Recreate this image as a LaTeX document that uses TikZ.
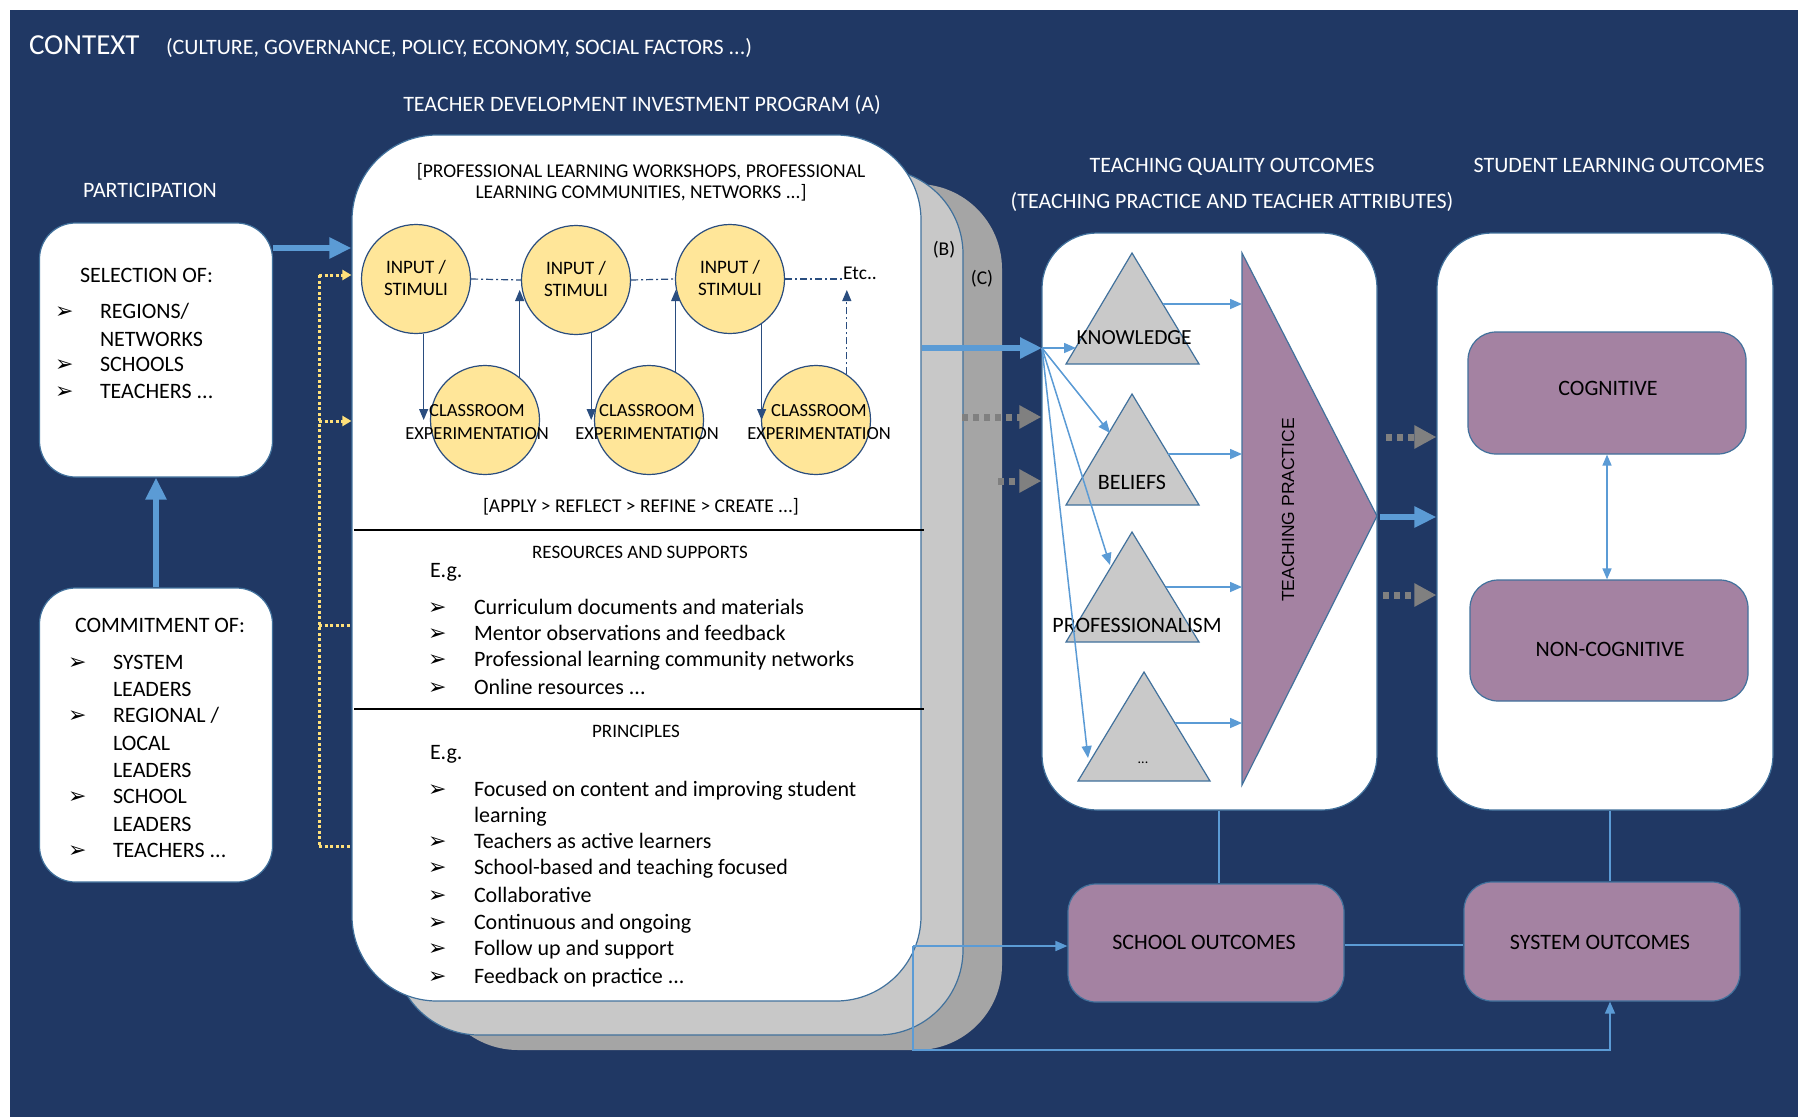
\documentclass[tikz,border=0pt]{standalone}
\usepackage{fontspec}
\setmainfont{Carlito}
\newfontfamily\symf{DejaVu Sans}
\newfontfamily\tpf{Liberation Sans}
\usetikzlibrary{arrows.meta,calc}
\definecolor{navy}{HTML}{203864}
\definecolor{lblue}{HTML}{5B9BD5}
\definecolor{bord}{HTML}{41719C}
\definecolor{dblue}{HTML}{2A4D7F}
\definecolor{purp}{HTML}{A482A2}
\definecolor{cyel}{HTML}{FFE699}
\definecolor{dyel}{HTML}{FFE07A}
\definecolor{tgray}{HTML}{C9C9C9}
\definecolor{lgray}{HTML}{C8C8C8}
\definecolor{mgray}{HTML}{A5A5A5}
\definecolor{dgray}{HTML}{808080}
\newcommand\fz[2]{\fontsize{#1pt}{#2pt}\selectfont}
\newcommand\bul{{\symf\char"27A2}}
\newcommand\ddd{...}
\begin{document}
\begin{tikzpicture}[x=1pt,y=-1pt,
  txt/.style={inner sep=0pt, outer sep=0pt},
  wtxt/.style={txt, text=white, font=\fz{22}{26}},
  btxt/.style={txt, text=black, font=\fz{22}{26}},
  stxt/.style={txt, text=black, font=\fz{19.5}{22}},
  ctxt/.style={txt, text=black, font=\fz{18.5}{22}},
  bulx/.style={txt, text=black, font=\fz{22}{24}\symf},
  wbox/.style={draw=bord, line width=1.2pt, fill=white, inner sep=0pt},
  pbox/.style={draw=bord, line width=1.2pt, fill=purp, rounded corners=28pt, inner sep=0pt},
  circ/.style={circle, draw=dblue, line width=1.2pt, fill=cyel, minimum size=109pt, inner sep=0pt},
  thinarrow/.style={draw=dblue, line width=1.2pt, -{Triangle[length=11pt,width=9pt]}},
  dashdot/.style={draw=dblue, line width=1.2pt, dash pattern=on 7pt off 3pt on 2pt off 3pt},
  fatarrow/.style={draw=lblue, line width=6pt, -{Triangle[length=22pt,width=20pt]}},
  bluearrow/.style={draw=lblue, line width=1.5pt, -{Triangle[length=12pt,width=10pt]}},
  blueline/.style={draw=lblue, line width=1.5pt},
  graydots/.style={draw=dgray, line width=7pt, dash pattern=on 6pt off 5pt, -{Triangle[length=22pt,width=22pt]}},
  yeldots/.style={draw=dyel, line width=3pt, dash pattern=on 3pt off 2.5pt},
  yelarrow/.style={yeldots, -{Triangle[length=9pt,width=10pt]}},
  tri/.style={draw=bord, line width=1.2pt, fill=tgray},
]
\useasboundingbox (0,0) rectangle (1798,1117);
\fill[white] (0,0) rectangle (1798,1117);
\fill[navy] (10,10) rectangle (1798,1117);

% headers
\node[txt, text=white, font=\fz{29}{34}, anchor=base west] (ctx) at (29,54) {CONTEXT};
\node[wtxt, anchor=base west] (ctxd) at (166,54) {(CULTURE, GOVERNANCE, POLICY, ECONOMY, SOCIAL FACTORS \ddd)};
\node[wtxt, anchor=base] (tdip) at (642,111) {TEACHER DEVELOPMENT INVESTMENT PROGRAM (A)};
\node[wtxt, anchor=base] (part) at (150,197) {PARTICIPATION};
\node[wtxt, anchor=base] (tqo) at (1232,172) {TEACHING QUALITY OUTCOMES};
\node[wtxt, anchor=base] (tpa) at (1232,208) {(TEACHING PRACTICE AND TEACHER ATTRIBUTES)};
\node[wtxt, anchor=base] (slo) at (1619,172) {STUDENT LEARNING OUTCOMES};

% left boxes
\node[wbox, rounded corners=36pt, minimum width=233pt, minimum height=254pt] (sel) at (156,350) {};
\node[wbox, rounded corners=36pt, minimum width=233pt, minimum height=294pt] (com) at (156,735) {};
\node[btxt, anchor=base west] (selh) at (80,282) {SELECTION OF:};
\node[bulx, anchor=base west] (sb1) at (55,318) {\bul};
\node[bulx, anchor=base west] (sb2) at (55,371) {\bul};
\node[bulx, anchor=base west] (sb3) at (55,398) {\bul};
\node[btxt, anchor=base west] (si1) at (100,318) {REGIONS/};
\node[btxt, anchor=base west] (si2) at (100,346) {NETWORKS};
\node[btxt, anchor=base west] (si3) at (100,371) {SCHOOLS};
\node[btxt, anchor=base west] (si4) at (100,398) {TEACHERS \ddd};

\node[btxt, anchor=base west] (comh) at (75,632) {COMMITMENT OF:};
\node[bulx, anchor=base west] (cb1) at (68,669) {\bul};
\node[bulx, anchor=base west] (cb2) at (68,722) {\bul};
\node[bulx, anchor=base west] (cb3) at (68,803) {\bul};
\node[bulx, anchor=base west] (cb4) at (68,857) {\bul};
\node[btxt, anchor=base west] (ci1) at (113,669) {SYSTEM};
\node[btxt, anchor=base west] (ci2) at (113,696) {LEADERS};
\node[btxt, anchor=base west] (ci3) at (113,722) {REGIONAL /};
\node[btxt, anchor=base west] (ci4) at (113,750) {LOCAL};
\node[btxt, anchor=base west] (ci5) at (113,777) {LEADERS};
\node[btxt, anchor=base west] (ci6) at (113,803) {SCHOOL};
\node[btxt, anchor=base west] (ci7) at (113,831) {LEADERS};
\node[btxt, anchor=base west] (ci8) at (113,857) {TEACHERS \ddd};

% program layers
\node[fill=mgray, rounded corners=85pt, minimum width=569pt, minimum height=866pt, inner sep=0pt] (C) at (717.5,617) {};
\node[wbox, fill=lgray, rounded corners=85pt, minimum width=569pt, minimum height=866pt] (B) at (678.5,602) {};
\node[wbox, rounded corners=85pt, minimum width=569pt, minimum height=866pt] (A) at (636.5,568) {};
\node[stxt, anchor=base] (lb) at (944,255) {(B)};
\node[stxt, anchor=base] (lc) at (982,284) {(C)};

\coordinate (h1) at (354,530);
\coordinate (h2) at (354,709);
\draw[black, line width=1.5pt] (h1) -- ++(570,0);
\draw[black, line width=1.5pt] (h2) -- ++(570,0);

% participation arrows
\coordinate (pa) at (0,248);
\draw[fatarrow] (com.north) -- (sel.south);
\draw[fatarrow] (sel.east |- pa) -- (A.west |- pa);

% yellow dotted connectors
\coordinate (y1) at (319,275);
\coordinate (y2) at (319,421);
\coordinate (y3) at (319,625);
\coordinate (y4) at (319,846);
\draw[yeldots] (y1) -- (y4);
\draw[yelarrow] (y1) -- (A.west |- y1);
\draw[yelarrow] (y2) -- (A.west |- y2);
\draw[yeldots] (y3) -- (A.west |- y3);
\draw[yeldots] (y4) -- (A.west |- y4);

% program text
\node[stxt, anchor=base] (pl1) at (641,177) {[PROFESSIONAL LEARNING WORKSHOPS, PROFESSIONAL};
\node[stxt, anchor=base] (pl2) at (641,198) {LEARNING COMMUNITIES, NETWORKS \ddd]};

% circles
\node[circ] (in1) at (416,279) {};
\node[circ] (in2) at (576,280) {};
\node[circ] (in3) at (730,279) {};
\node[circ] (cl1) at (485,420) {};
\node[circ] (cl2) at (649,420) {};
\node[circ] (cl3) at (816,420) {};

\node[stxt, anchor=base] (etc) at (860,279) {Etc..};
\draw[dashdot] (in1.east) -- (in2.west);
\draw[dashdot] (in2.east) -- (in3.west);
\draw[dashdot] (in3.east) -- (etc.west |- in3.east);

\coordinate (lvl) at (0,420);
\coordinate (topl) at (0,290);
\draw[thinarrow] (in1.-82) -- (in1.-82 |- lvl);
\draw[thinarrow] (cl1.51) -- (cl1.51 |- topl);
\draw[thinarrow] (in2.-74) -- (in2.-74 |- lvl);
\draw[thinarrow] (cl2.61) -- (cl2.61 |- topl);
\draw[thinarrow] (in3.-55) -- (in3.-55 |- lvl);
\draw[dashdot, -{Triangle[length=11pt,width=9pt]}] (cl3.56) -- (cl3.56 |- topl);

\foreach \n in {in1,in2,in3}{
  \node[ctxt, font=\fz{19}{22}, anchor=base] at ($(\n.center)+(0,-6)$) {INPUT /};
  \node[ctxt, font=\fz{19}{22}, anchor=base] at ($(\n.center)+(0,16)$) {STIMULI};
}
\node[ctxt, anchor=base] (t1a) at (477,416) {CLASSROOM};
\node[ctxt, anchor=base] (t1b) at (477,439) {EXPERIMENTATION};
\node[ctxt, anchor=base] (t2a) at (647,416) {CLASSROOM};
\node[ctxt, anchor=base] (t2b) at (647,439) {EXPERIMENTATION};
\node[ctxt, anchor=base] (t3a) at (819,416) {CLASSROOM};
\node[ctxt, anchor=base] (t3b) at (819,439) {EXPERIMENTATION};

\node[stxt, anchor=base] (arrc) at (641,512) {[APPLY > REFLECT > REFINE > CREATE \ddd]};

% resources
\node[txt, font=\fz{19}{22}, anchor=base] (res) at (640,558) {RESOURCES AND SUPPORTS};
\node[btxt, anchor=base west] (eg1) at (430,577) {E.g.};
\foreach \yy/\tt in {614/Curriculum documents and materials, 640/Mentor observations and feedback, 666/Professional learning community networks, 694/Online resources \ddd}{
  \node[bulx, anchor=base west] at (428,\yy) {\bul};
  \node[btxt, anchor=base west] at (474,\yy) {\tt};
}
% principles
\node[txt, font=\fz{19}{22}, anchor=base] (pri) at (636,737) {PRINCIPLES};
\node[btxt, anchor=base west] (eg2) at (430,759) {E.g.};
\foreach \yy/\tt in {796/Focused on content and improving student, 848/Teachers as active learners, 874/School-based and teaching focused, 902/Collaborative, 929/Continuous and ongoing, 955/Follow up and support, 983/Feedback on practice \ddd}{
  \node[bulx, anchor=base west] at (428,\yy) {\bul};
  \node[btxt, anchor=base west] at (474,\yy) {\tt};
}
\node[btxt, anchor=base west] (lrn) at (474,822) {learning};

% right boxes
\node[wbox, rounded corners=55pt, minimum width=335pt, minimum height=577pt] (tq) at (1209.5,521.5) {};
\node[wbox, rounded corners=55pt, minimum width=336pt, minimum height=577pt] (sl) at (1605,521.5) {};

% triangles
\draw[tri] (1132,253) -- (1199,364) -- (1066,364) -- cycle;
\draw[tri] (1132,394) -- (1199,505) -- (1066,505) -- cycle;
\draw[tri] (1132,532) -- (1199,642) -- (1066,642) -- cycle;
\draw[tri] (1144,672) -- (1210,781) -- (1078,781) -- cycle;
\draw[draw=bord, line width=1.2pt, fill=purp] (1242,253) -- (1377,516) -- (1242,785) -- cycle;

\node[btxt, font=\fz{21.5}{26}, anchor=base] (kn) at (1134,344) {KNOWLEDGE};
\node[btxt, anchor=base] (be) at (1132,489) {BELIEFS};
\node[btxt, anchor=base] (pr) at (1137,632) {PROFESSIONALISM};
\node[btxt, font=\fz{14}{16}, anchor=base] (dots) at (1143,763) {\ddd};
\node[txt, rotate=90, font=\fz{17.5}{20}\tpf] (tpl) at (1288,510) {TEACHING PRACTICE};

% arrows triangles -> teaching practice
\coordinate (kR) at (1163,304);
\coordinate (bR) at (1168,454);
\coordinate (pR) at (1166,587);
\coordinate (dR) at (1175,723);
\coordinate (tpL) at (1242,0);
\draw[bluearrow] (kR) -- (kR -| tpL);
\draw[bluearrow] (bR) -- (bR -| tpL);
\draw[bluearrow] (pR) -- (pR -| tpL);
\draw[bluearrow] (dR) -- (dR -| tpL);

% fan
\coordinate (fan) at (1042,348);
\draw[fatarrow] (A.east |- fan) -- (fan);
\draw[bluearrow] (fan) -- (1076,348);
\draw[bluearrow] (fan) -- (1110,433);
\draw[bluearrow] (fan) -- (1110,565);
\draw[bluearrow] (fan) -- (1088,758);

% gray dotted arrows
\coordinate (g1) at (962,417);
\coordinate (g2) at (998,481);
\draw[graydots] (g1) -- (tq.west |- g1);
\draw[graydots] (g2) -- (tq.west |- g2);
\coordinate (g3) at (1386,437);
\coordinate (g4) at (1383,595);
\coordinate (g5) at (1380,517);
\draw[graydots] (g3) -- (sl.west |- g3);
\draw[graydots] (g4) -- (sl.west |- g4);
\draw[fatarrow] (g5) -- (sl.west |- g5);

% student outcomes
\node[pbox, minimum width=278pt, minimum height=122pt] (cog) at (1607,393) {};
\node[pbox, minimum width=278pt, minimum height=121pt] (ncog) at (1609,640.5) {};
\node[btxt, anchor=base] (cogt) at (1608,395) {COGNITIVE};
\node[btxt, anchor=base] (ncogt) at (1610,656) {NON-COGNITIVE};
\draw[draw=lblue, line width=1.5pt, {Triangle[length=11pt,width=9pt]}-{Triangle[length=11pt,width=9pt]}] (cog.south) -- (cog.south |- ncog.north);

% school / system outcomes
\node[pbox, minimum width=276pt, minimum height=118pt] (sch) at (1206,943) {};
\node[pbox, minimum width=276pt, minimum height=119pt] (sys) at (1602,941.5) {};
\node[btxt, anchor=base] (scht) at (1204,949) {SCHOOL OUTCOMES};
\node[btxt, anchor=base] (syst) at (1600,949) {SYSTEM OUTCOMES};

\coordinate (v1) at (1219,0);
\coordinate (v2) at (1610,0);
\coordinate (hz) at (0,945);
\draw[blueline] (tq.south -| v1) -- (sch.north -| v1);
\draw[blueline] (sl.south -| v2) -- (sys.north -| v2);
\draw[blueline] (sch.east |- hz) -- (sys.west |- hz);
\coordinate (q) at (913,946);
\coordinate (bot) at (0,1050);
\draw[bluearrow] (q) -- (sch.west |- q);
\draw[bluearrow] (q) -- (q |- bot) -- (bot -| v2) -- (sys.south -| v2);
\end{tikzpicture}
\end{document}
